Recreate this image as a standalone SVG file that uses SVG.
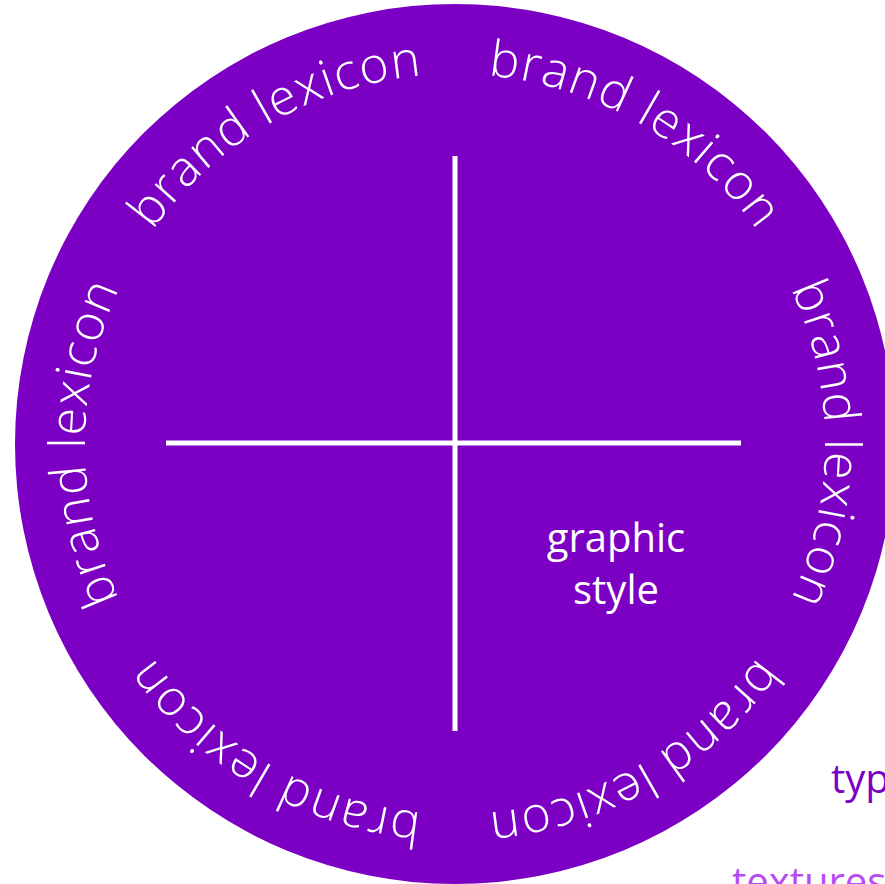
<svg xmlns="http://www.w3.org/2000/svg" xmlns:xlink="http://www.w3.org/1999/xlink" width="885" height="884" viewBox="0 0 885 884">
<style>
.ring{font-family:"Open Sans","Lato",sans-serif;font-weight:300;font-size:50px;fill:#ffffff;letter-spacing:1.2px}
.lbl{font-family:"Open Sans","Liberation Sans",sans-serif;font-size:40px;fill:#ffffff}
.out{font-family:"Open Sans","Liberation Sans",sans-serif;font-size:40px}
</style>
<defs>
<path id="rp" d="M455 74 A370 370 0 1 1 455 814 A370 370 0 1 1 455 74" fill="none"/>
</defs>
<rect width="885" height="884" fill="#ffffff"/>
<g id="disc">
<circle cx="455" cy="444" r="440" fill="#7B00C4"/>
</g>
<g id="connectors" stroke="#ffffff" stroke-width="5">
<line x1="455" y1="156" x2="455" y2="731"/>
<line x1="166" y1="443" x2="741" y2="443"/>
</g>
<g id="ring-labels">
<text class="ring" text-anchor="middle"><textPath xlink:href="#rp" startOffset="193.7">brand lexicon</textPath></text>
<text class="ring" text-anchor="middle"><textPath xlink:href="#rp" startOffset="581.2">brand lexicon</textPath></text>
<text class="ring" text-anchor="middle"><textPath xlink:href="#rp" startOffset="968.7">brand lexicon</textPath></text>
<text class="ring" text-anchor="middle"><textPath xlink:href="#rp" startOffset="1356.1">brand lexicon</textPath></text>
<text class="ring" text-anchor="middle"><textPath xlink:href="#rp" startOffset="1743.6">brand lexicon</textPath></text>
<text class="ring" text-anchor="middle"><textPath xlink:href="#rp" startOffset="2131.0">brand lexicon</textPath></text>
</g>
<g id="graphic-style">
<text class="lbl" text-anchor="middle"><tspan x="616" y="552">graphic</tspan><tspan x="616" y="604">style</tspan></text>
</g>
<g id="typography">
<text class="out" x="831" y="793" fill="#7B00C4">typ</text>
</g>
<g id="textures">
<text class="out" x="732" y="896" fill="#B74CF5">textures</text>
</g>
</svg>
